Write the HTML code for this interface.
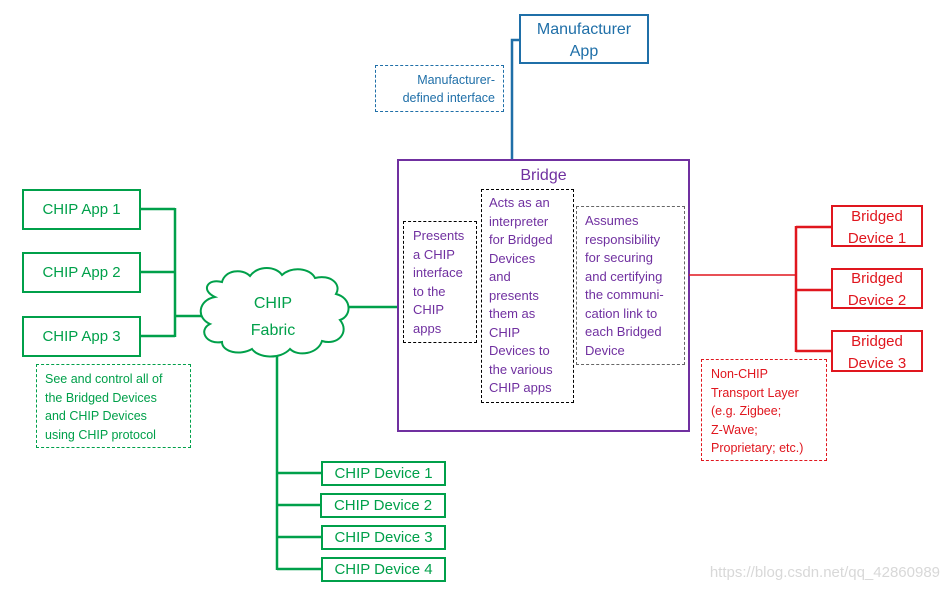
<!DOCTYPE html>
<html><head><meta charset="utf-8"><style>
body{margin:0;background:#fff;width:944px;height:592px;overflow:hidden;position:relative;font-family:"Liberation Sans",sans-serif}
.b{position:absolute;box-sizing:border-box;display:flex;align-items:center;justify-content:center;text-align:center}
.t{position:absolute;box-sizing:border-box}
</style></head><body>
<svg width="944" height="592" style="position:absolute;left:0;top:0">
<g fill="none">
<path d="M519 40H512V160" stroke="#1f6fa8" stroke-width="2.5"/>
<rect x="398" y="160" width="291" height="271" stroke="#7030a0" stroke-width="2"/>
<path d="M140 209H175M140 272H175M140 336H175M175 208V337M175 316H203M348 307H397M277 355V570M277 473H321M277 505H321M277 537H321M277 569H321" stroke="#00a04a" stroke-width="2.5"/>
<path d="M689 275H796" stroke="#e0161e" stroke-width="1.5"/>
<path d="M796 226V352M796 227H831M796 290H831M796 351H831" stroke="#e0161e" stroke-width="2.5"/>
<path d="M215 297C200 290 208 278 222 282C225 270 242 268 250 276C258 265 276 266 282 275C292 266 310 268 315 278C330 274 342 284 336 294C352 298 352 316 340 320C350 332 338 346 322 341C318 354 298 357 290 349C280 360 258 358 252 349C240 356 222 352 222 342C206 345 198 330 210 324C196 318 198 300 215 297Z" stroke="#00a04a" stroke-width="2" fill="#fff"/>
</g>
</svg>
<div class="b" style="left:519px;top:14px;width:130px;height:50px;border:2.5px solid #1f6fa8;color:#1f6fa8;font-size:16px;line-height:22px;padding-top:3px">Manufacturer<br>App</div>
<div class="t" style="left:375px;top:65px;width:129px;height:47px;border:1px dashed #1f6fa8;color:#1f6fa8;font-size:12.5px;line-height:18px;text-align:right;padding:5px 8px 0 0">Manufacturer-<br>defined interface</div>
<div class="t" style="left:398px;top:167px;width:291px;text-align:center;color:#7030a0;font-size:16px">Bridge</div>
<div class="t" style="left:403px;top:221px;width:74px;height:122px;border:1px dashed #000;color:#7030a0;font-size:13px;line-height:18.5px;padding:5px 0 0 9px">Presents<br>a CHIP<br>interface<br>to the<br>CHIP<br>apps</div>
<div class="t" style="left:481px;top:189px;width:93px;height:214px;border:1px dashed #000;color:#7030a0;font-size:13px;line-height:18.5px;padding:4px 0 0 7px">Acts as an<br>interpreter<br>for Bridged<br>Devices<br>and<br>presents<br>them as<br>CHIP<br>Devices to<br>the various<br>CHIP apps</div>
<div class="t" style="left:576px;top:206px;width:109px;height:159px;border:1px dashed #666;color:#7030a0;font-size:13px;line-height:18.5px;padding:5px 0 0 8px">Assumes<br>responsibility<br>for securing<br>and certifying<br>the communi-<br>cation link to<br>each Bridged<br>Device</div>
<div class="b" style="left:22px;top:189px;width:119px;height:41px;border:2.5px solid #00a04a;color:#00a04a;font-size:15px">CHIP App 1</div>
<div class="b" style="left:22px;top:252px;width:119px;height:41px;border:2.5px solid #00a04a;color:#00a04a;font-size:15px">CHIP App 2</div>
<div class="b" style="left:22px;top:316px;width:119px;height:41px;border:2.5px solid #00a04a;color:#00a04a;font-size:15px">CHIP App 3</div>
<div class="t" style="left:36px;top:364px;width:155px;height:84px;border:1px dashed #00a04a;color:#00a04a;font-size:12.5px;line-height:18.5px;padding:5px 0 0 8px">See and control all of<br>the Bridged Devices<br>and CHIP Devices<br>using CHIP protocol</div>
<div class="t" style="left:218px;top:290px;width:110px;text-align:center;color:#00a04a;font-size:16px;line-height:27px">CHIP<br>Fabric</div>
<div class="b" style="left:321px;top:461px;width:125px;height:25px;border:2.5px solid #00a04a;color:#00a04a;font-size:15px">CHIP Device 1</div>
<div class="b" style="left:320px;top:493px;width:126px;height:25px;border:2.5px solid #00a04a;color:#00a04a;font-size:15px">CHIP Device 2</div>
<div class="b" style="left:321px;top:525px;width:125px;height:25px;border:2.5px solid #00a04a;color:#00a04a;font-size:15px">CHIP Device 3</div>
<div class="b" style="left:321px;top:557px;width:125px;height:25px;border:2.5px solid #00a04a;color:#00a04a;font-size:15px">CHIP Device 4</div>
<div class="b" style="left:831px;top:205px;width:92px;height:42px;border:2.5px solid #e0161e;color:#e0161e;font-size:15px;line-height:22px;padding-top:3px">Bridged<br>Device 1</div>
<div class="b" style="left:831px;top:268px;width:92px;height:41px;border:2.5px solid #e0161e;color:#e0161e;font-size:15px;line-height:22px;padding-top:3px">Bridged<br>Device 2</div>
<div class="b" style="left:831px;top:330px;width:92px;height:42px;border:2.5px solid #e0161e;color:#e0161e;font-size:15px;line-height:22px;padding-top:3px">Bridged<br>Device 3</div>
<div class="t" style="left:701px;top:359px;width:126px;height:102px;border:1px dashed #e0161e;color:#e0161e;font-size:12.5px;line-height:18.5px;padding:5px 0 0 9px">Non-CHIP<br>Transport Layer<br>(e.g. Zigbee;<br>Z-Wave;<br>Proprietary; etc.)</div>
<div class="t" style="left:690px;top:564px;width:250px;text-align:right;color:#d8d8d8;font-size:15px">https://blog.csdn.net/qq_42860989</div>
</body></html>
